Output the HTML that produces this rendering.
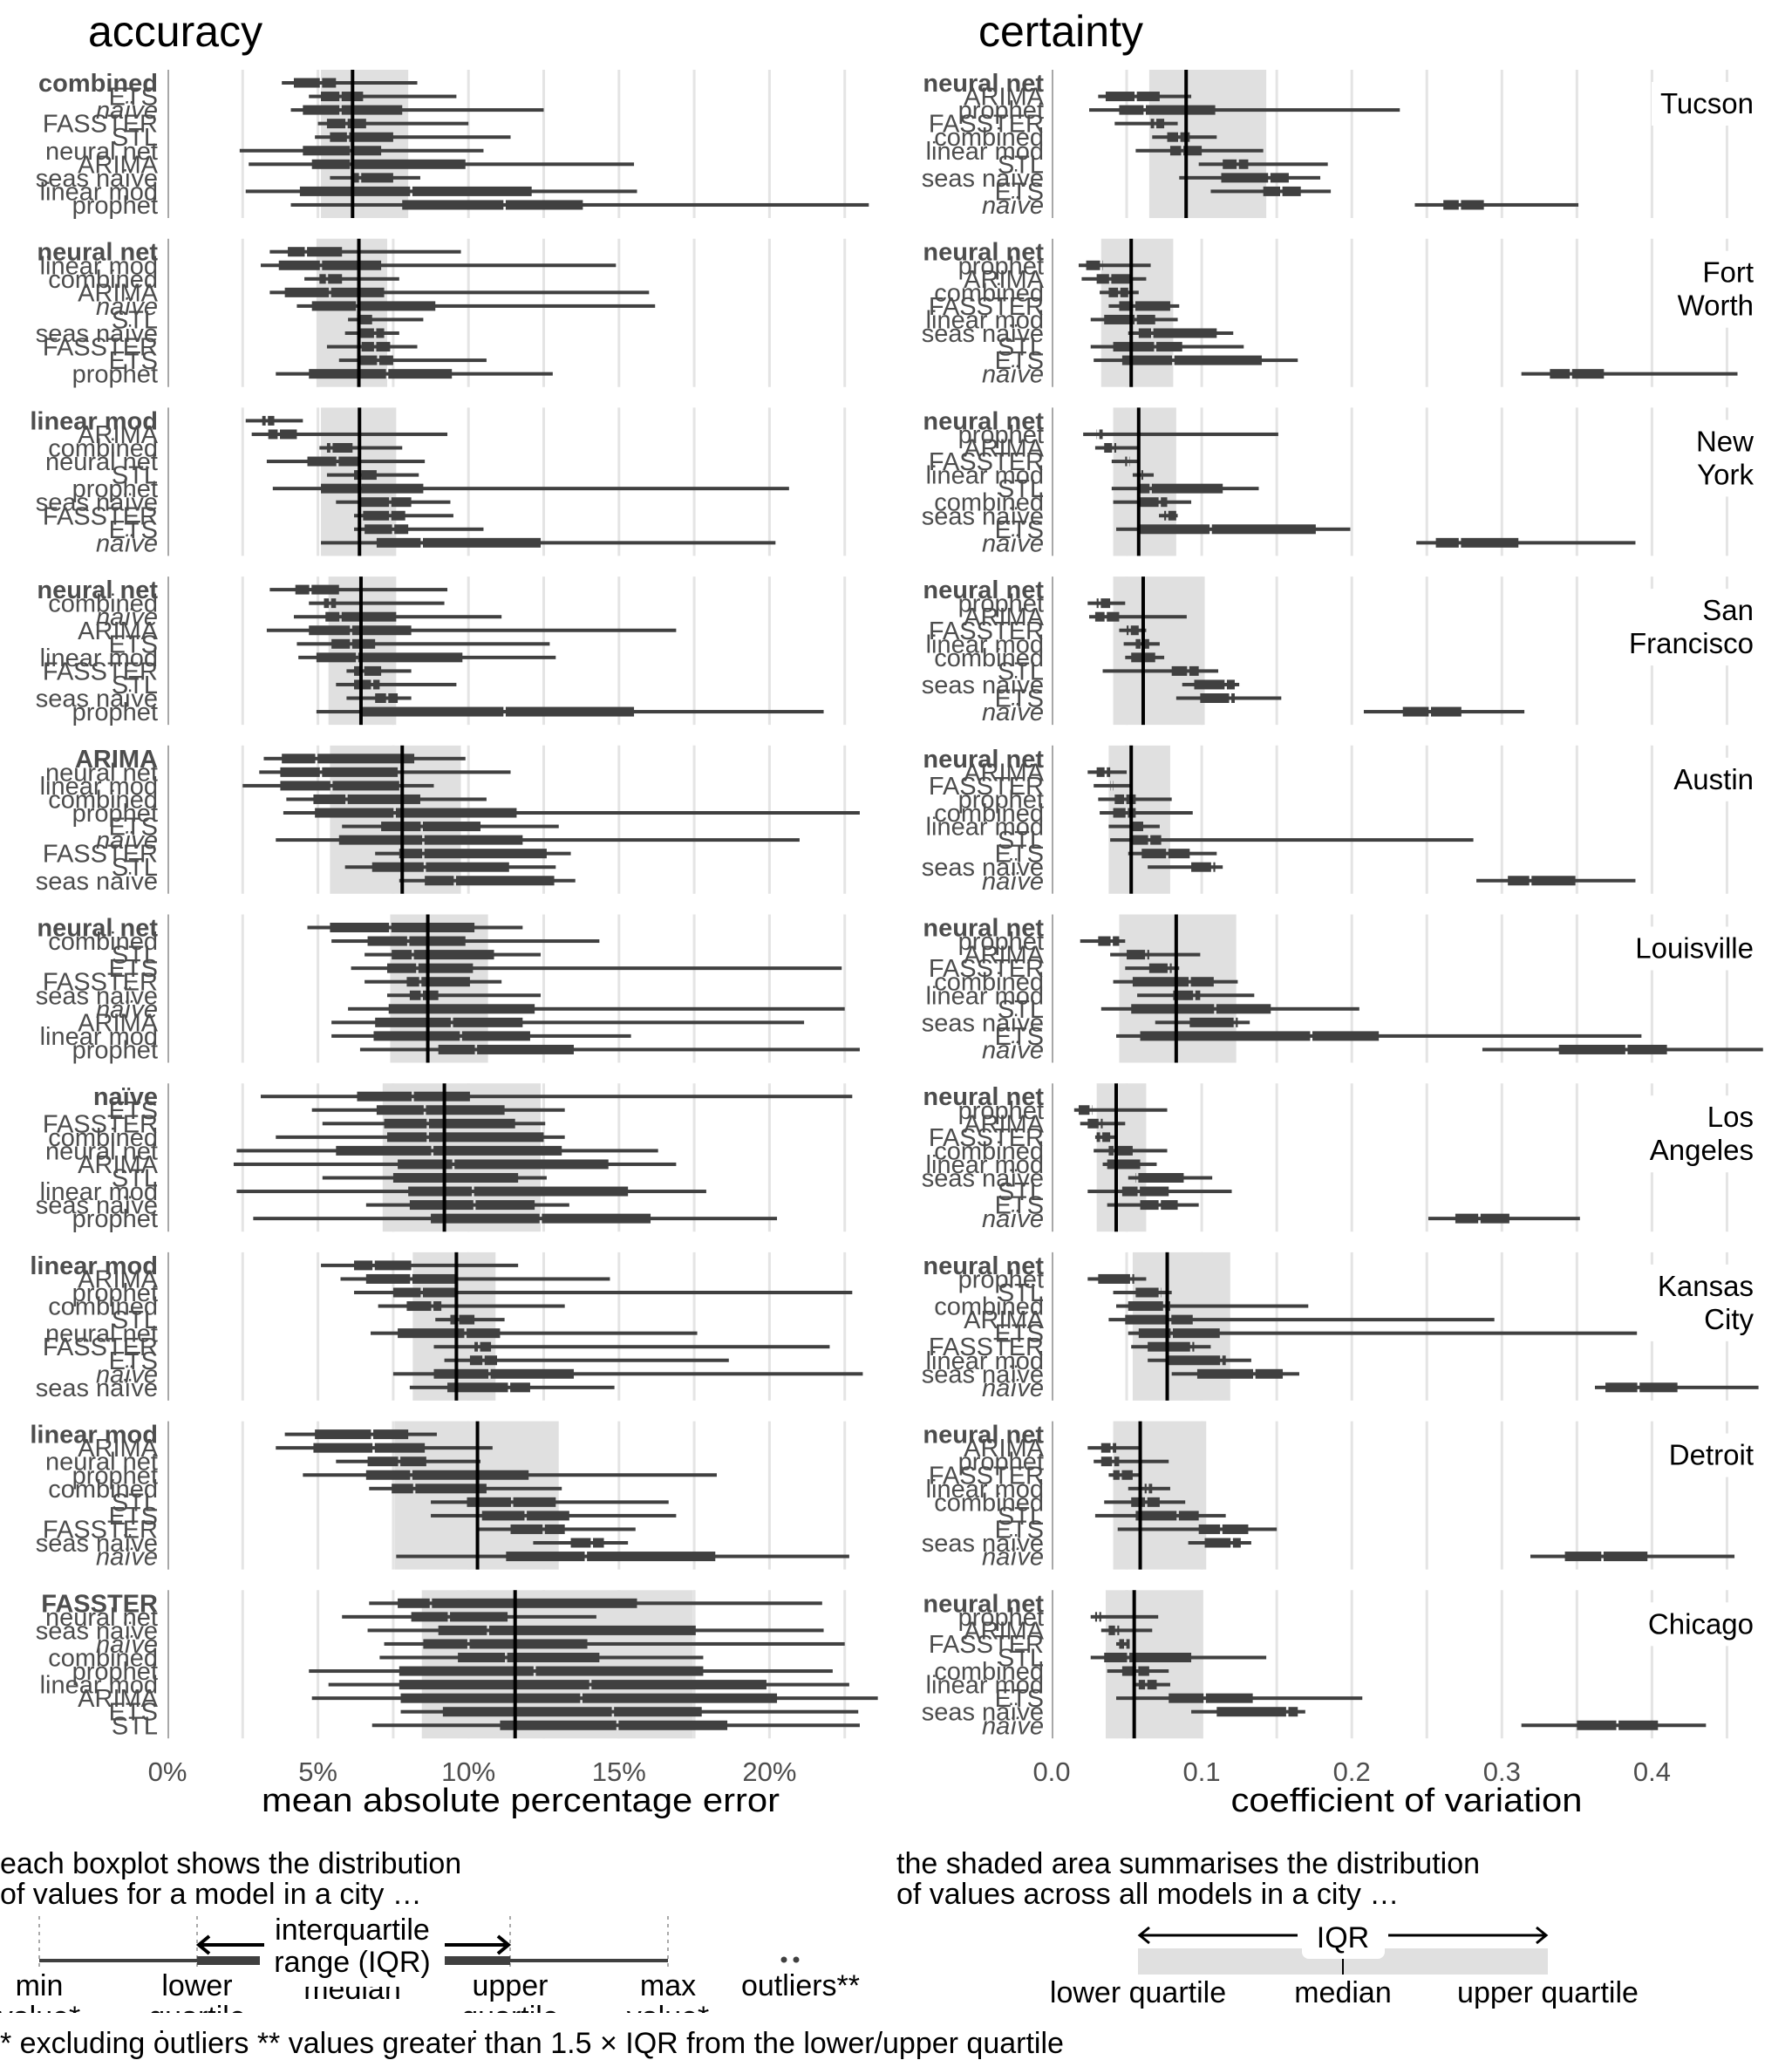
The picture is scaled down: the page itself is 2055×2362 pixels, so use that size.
<!DOCTYPE html>
<html><head><meta charset="utf-8"><title>accuracy and certainty by city</title>
<style>
html,body{margin:0;padding:0;background:#fff;}
svg{display:block;font-family:"Liberation Sans",sans-serif;}
</style></head>
<body>
<svg id="chart" width="2055" height="2362" viewBox="0 0 2055 2362" xmlns="http://www.w3.org/2000/svg">
<rect x="0" y="0" width="2055" height="2362" fill="#fff"/>
<text x="101" y="53" font-size="50" fill="#000">accuracy</text>
<text x="1122" y="53" font-size="50" fill="#000">certainty</text>
<g id="plots"></g>
<text x="597" y="2077" font-size="38" text-anchor="middle" textLength="594" lengthAdjust="spacingAndGlyphs" fill="#000">mean absolute percentage error</text>
<text x="1613" y="2077" font-size="38" text-anchor="middle" textLength="403" lengthAdjust="spacingAndGlyphs" fill="#000">coefficient of variation</text>

<g font-size="34" fill="#000">
  <text x="0" y="2148">each boxplot shows the distribution</text>
  <text x="0" y="2183">of values for a model in a city …</text>
  <g stroke="#aaa" stroke-width="2" stroke-dasharray="4,5">
    <line x1="45" y1="2197" x2="45" y2="2257"/><line x1="226" y1="2197" x2="226" y2="2257"/>
    <line x1="585" y1="2197" x2="585" y2="2257"/><line x1="766" y1="2197" x2="766" y2="2257"/>
  </g>
  <rect x="45" y="2246" width="721" height="4" fill="#404040"/>
  <rect x="226" y="2243" width="77" height="10" fill="#404040"/>
  <rect x="510" y="2243" width="75" height="10" fill="#404040"/>
  <text x="45" y="2288" text-anchor="middle">min</text>
  <text x="226" y="2288" text-anchor="middle">lower</text>
  <text x="404" y="2292" text-anchor="middle">median</text>
  <text x="585" y="2288" text-anchor="middle">upper</text>
  <text x="766" y="2288" text-anchor="middle">max</text>
  <text x="45" y="2324" text-anchor="middle">value*</text>
  <text x="226" y="2324" text-anchor="middle">quartile</text>
  <text x="585" y="2324" text-anchor="middle">quartile</text>
  <text x="766" y="2324" text-anchor="middle">value*</text>
  <rect x="0" y="2308" width="1100" height="20" fill="#fff"/>
  <rect x="298" y="2198" width="212" height="80" rx="6" fill="#fff"/>
  <text x="404" y="2224" text-anchor="middle">interquartile</text>
  <text x="404" y="2261" text-anchor="middle">range (IQR)</text>
  <g stroke="#000" stroke-width="4" fill="none">
    <line x1="303" y1="2230" x2="230" y2="2230"/><polyline points="240,2220 228,2230 240,2240"/>
    <line x1="510" y1="2230" x2="581" y2="2230"/><polyline points="571,2220 583,2230 571,2240"/>
  </g>
  <circle cx="899" cy="2247" r="3.5" fill="#404040"/><circle cx="913" cy="2247" r="3.5" fill="#404040"/>
  <text x="918" y="2288" text-anchor="middle">outliers**</text>
  <text x="0" y="2354">* excluding outliers  ** values greater than 1.5 × IQR from the lower/upper quartile</text>
</g>

<g font-size="34" fill="#000">
  <text x="1028" y="2148">the shaded area summarises the distribution</text>
  <text x="1028" y="2183">of values across all models in a city …</text>
  <rect x="1305" y="2234" width="470" height="30" fill="#e0e0e0"/>
  <rect x="1493" y="2200" width="95" height="46" rx="8" fill="#fff"/>
  <line x1="1540" y1="2246" x2="1540" y2="2264" stroke="#000" stroke-width="2"/>
  <text x="1540" y="2233" text-anchor="middle">IQR</text>
  <g stroke="#000" stroke-width="3" fill="none">
    <line x1="1488" y1="2219" x2="1308" y2="2219"/><polyline points="1318,2210 1307,2219 1318,2228"/>
    <line x1="1592" y1="2219" x2="1772" y2="2219"/><polyline points="1762,2210 1773,2219 1762,2228"/>
  </g>
  <text x="1305" y="2296" text-anchor="middle">lower quartile</text>
  <text x="1540" y="2296" text-anchor="middle">median</text>
  <text x="1775" y="2296" text-anchor="middle">upper quartile</text>
</g>
</svg>

<script>
// ---------- data ----------
const cities = ["Tucson","Fort Worth","New York","San Francisco","Austin","Louisville","Los Angeles","Kansas City","Detroit","Chicago"];
const accTicks = [0,5,10,15,20];
const accTickLabels = ["0%","5%","10%","15%","20%"];
const cvTicks = [0,0.1,0.2,0.3,0.4];
const cvTickLabels = ["0.0","0.1","0.2","0.3","0.4"];

const accModels = [
 ["combined","ETS","naïve","FASSTER","STL","neural net","ARIMA","seas naïve","linear mod","prophet"],
 ["neural net","linear mod","combined","ARIMA","naïve","STL","seas naïve","FASSTER","ETS","prophet"],
 ["linear mod","ARIMA","combined","neural net","STL","prophet","seas naïve","FASSTER","ETS","naïve"],
 ["neural net","combined","naïve","ARIMA","ETS","linear mod","FASSTER","STL","seas naïve","prophet"],
 ["ARIMA","neural net","linear mod","combined","prophet","ETS","naïve","FASSTER","STL","seas naïve"],
 ["neural net","combined","STL","ETS","FASSTER","seas naïve","naïve","ARIMA","linear mod","prophet"],
 ["naïve","ETS","FASSTER","combined","neural net","ARIMA","STL","linear mod","seas naïve","prophet"],
 ["linear mod","ARIMA","prophet","combined","STL","neural net","FASSTER","ETS","naïve","seas naïve"],
 ["linear mod","ARIMA","neural net","prophet","combined","STL","ETS","FASSTER","seas naïve","naïve"],
 ["FASSTER","neural net","seas naïve","naïve","combined","prophet","linear mod","ARIMA","ETS","STL"]
];
const accMin = [
 [3.8,4.7,4.1,5.0,4.9,2.4,2.7,5.4,2.6,4.1],
 [3.4,3.1,4.55,3.4,4.3,6.0,5.9,5.3,5.7,3.6],
 [2.6,2.8,5.05,3.3,5.3,3.5,5.6,6.2,6.2,5.1],
 [3.4,4.7,4.2,3.3,4.3,4.35,5.95,5.6,5.95,4.95],
 [3.2,3.05,2.5,3.95,3.85,5.8,3.6,6.9,5.9,7.7],
 [4.65,5.45,6.55,6.1,6.55,7.3,6.0,5.45,5.45,6.4],
 [3.1,4.8,5.15,3.6,2.3,2.2,5.15,2.3,6.6,2.85],
 [5.1,5.75,6.2,7.0,8.9,6.75,8.85,9.2,7.5,8.05],
 [3.9,3.6,5.6,4.5,6.7,8.75,8.75,10.35,12.15,7.6],
 [6.7,5.8,6.65,7.2,7.05,4.7,5.35,4.8,7.75,6.8]
];
const accQ1 = [
 [4.2,5.1,4.5,5.3,5.4,4.5,4.8,6.2,4.4,7.8],
 [4.0,3.7,5.05,3.9,4.8,6.3,6.35,6.45,6.4,4.7],
 [3.15,3.35,5.3,4.65,6.2,5.1,6.4,6.5,6.55,6.95],
 [4.25,5.2,5.25,4.7,5.45,4.95,6.2,6.2,6.9,6.45],
 [3.8,3.75,3.75,4.85,4.9,7.1,5.7,7.7,6.8,8.55],
 [5.4,6.65,7.45,7.3,7.95,8.05,7.35,6.9,6.85,9.0],
 [6.3,6.95,7.2,7.3,5.6,7.65,7.5,8.0,8.05,8.75],
 [6.2,6.6,7.5,7.95,9.4,7.65,10.2,10.05,8.85,9.3],
 [4.9,4.85,6.65,6.6,7.45,9.95,10.45,11.4,13.4,11.25],
 [7.65,8.1,9.0,8.5,9.65,7.7,7.7,7.75,9.15,11.05]
];
const accMed = [
 [5.1,5.75,5.75,5.95,6.0,6.1,6.1,6.4,8.1,11.2],
 [4.6,5.1,5.3,5.4,6.3,6.35,6.9,6.9,7.0,7.3],
 [3.3,3.7,5.45,5.65,6.4,6.4,7.4,7.4,7.5,8.45],
 [4.75,5.4,5.75,6.1,6.1,6.3,6.5,6.8,7.3,11.2],
 [4.95,5.1,5.45,5.95,7.55,8.45,8.5,8.5,8.55,9.55],
 [7.4,8.0,8.15,8.3,8.4,8.45,8.65,9.45,9.75,10.25],
 [8.15,8.55,8.65,8.65,8.8,9.5,9.2,10.15,10.2,12.4],
 [6.85,8.1,8.45,8.8,9.65,9.9,10.35,10.5,10.7,11.35],
 [6.8,6.85,7.7,8.1,8.2,11.45,11.9,12.5,14.1,13.9],
 [8.75,9.35,10.65,10.0,11.25,12.2,14.05,13.75,14.8,14.95]
];
const accQ3 = [
 [5.6,6.5,7.8,6.6,7.5,7.1,9.9,7.5,12.1,13.8],
 [5.8,7.1,5.8,7.2,8.9,6.8,7.2,7.4,7.5,9.45],
 [3.55,4.3,6.15,6.35,6.95,8.5,8.1,7.9,8.0,12.4],
 [5.7,5.6,7.6,8.1,6.9,9.8,7.1,7.05,7.65,15.5],
 [8.2,7.65,7.7,8.4,11.6,10.4,11.8,12.6,11.35,12.85],
 [10.2,9.9,10.85,10.15,10.05,9.0,12.2,11.8,12.05,13.5],
 [10.05,11.2,11.55,12.5,13.1,14.65,11.65,15.3,12.2,16.05],
 [8.1,9.55,9.55,9.1,10.2,11.05,10.75,10.95,13.5,12.05],
 [8.0,8.55,8.6,12.0,10.6,12.9,13.35,13.2,14.5,18.2],
 [15.6,11.3,17.55,13.95,14.35,17.8,19.9,20.25,17.75,18.6]
];
const accMax = [
 [8.3,9.6,12.5,10.0,11.4,10.5,15.5,8.4,15.6,23.3],
 [9.75,14.9,7.7,16.0,16.2,8.5,7.7,8.3,10.6,12.8],
 [4.5,9.3,7.8,8.55,8.35,20.65,9.4,9.5,10.5,20.2],
 [9.3,9.2,11.1,16.9,12.7,12.9,8.1,9.6,8.1,21.8],
 [9.9,11.4,8.85,10.6,23.0,13.0,21.0,13.4,12.9,13.55],
 [11.8,14.35,12.4,22.4,11.1,12.4,22.5,21.15,15.4,23.0],
 [22.75,13.2,12.55,13.2,16.3,16.9,12.6,17.9,13.35,20.25],
 [11.65,14.7,22.75,13.2,11.2,17.6,22.0,18.65,23.1,14.85],
 [8.95,10.8,10.4,18.25,13.1,16.65,16.9,15.55,15.3,22.65],
 [21.75,14.25,21.8,22.5,17.8,22.1,22.65,23.6,22.95,23.0]
];
const accShadeLo = [5.1,4.95,5.1,5.35,5.4,7.4,7.15,8.15,7.55,8.45];
const accShadeMed = [6.15,6.36,6.38,6.43,7.8,8.65,9.2,9.6,10.3,11.55];
const accShadeHi = [8.0,7.3,7.6,7.6,9.75,10.65,12.4,10.9,13.0,17.45];

const cvModels = [
 ["neural net","ARIMA","prophet","FASSTER","combined","linear mod","STL","seas naïve","ETS","naïve"],
 ["neural net","prophet","ARIMA","combined","FASSTER","linear mod","seas naïve","STL","ETS","naïve"],
 ["neural net","prophet","ARIMA","FASSTER","linear mod","STL","combined","seas naïve","ETS","naïve"],
 ["neural net","prophet","ARIMA","FASSTER","linear mod","combined","STL","seas naïve","ETS","naïve"],
 ["neural net","ARIMA","FASSTER","prophet","combined","linear mod","STL","ETS","seas naïve","naïve"],
 ["neural net","prophet","ARIMA","FASSTER","combined","linear mod","STL","seas naïve","ETS","naïve"],
 ["neural net","prophet","ARIMA","FASSTER","combined","linear mod","seas naïve","STL","ETS","naïve"],
 ["neural net","prophet","STL","combined","ARIMA","ETS","FASSTER","linear mod","seas naïve","naïve"],
 ["neural net","ARIMA","prophet","FASSTER","linear mod","combined","STL","ETS","seas naïve","naïve"],
 ["neural net","prophet","ARIMA","FASSTER","STL","combined","linear mod","ETS","seas naïve","naïve"]
];
const cvMin = [
 [null,0.031,0.025,0.042,0.067,0.056,0.098,0.085,0.106,0.242],
 [null,0.018,0.020,0.032,0.038,0.026,0.051,0.026,0.028,0.313],
 [null,0.021,0.029,0.040,0.054,0.040,0.041,0.0715,0.043,0.243],
 [null,0.024,0.025,0.045,0.048,0.049,0.034,0.087,0.083,0.208],
 [null,0.024,0.028,0.031,0.032,0.038,0.039,0.051,0.064,0.283],
 [null,0.019,0.039,0.049,0.041,0.057,0.033,0.069,0.043,0.287],
 [null,0.015,0.019,0.029,0.028,0.034,0.051,0.024,0.037,0.251],
 [null,0.024,0.041,0.043,0.038,0.051,0.053,0.064,0.080,0.362],
 [null,0.024,0.028,0.038,0.051,0.035,0.029,0.044,0.091,0.319],
 [null,0.026,0.033,0.043,0.026,0.037,0.056,0.043,0.093,0.313]
];
const cvQ1 = [
 [null,0.036,0.045,0.066,0.077,0.079,0.114,0.113,0.141,0.261],
 [null,0.023,0.030,0.038,0.045,0.035,0.058,0.041,0.047,0.332],
 [null,0.030,0.035,0.049,0.057,0.058,0.058,0.075,0.058,0.256],
 [null,0.030,0.029,0.050,0.056,0.053,0.080,0.095,0.099,0.234],
 [null,0.030,0.039,0.042,0.041,0.052,0.054,0.060,0.093,0.304],
 [null,0.031,0.050,0.065,0.054,0.081,0.053,0.092,0.059,0.338],
 [null,0.018,0.024,0.030,0.038,0.037,0.056,0.047,0.059,0.269],
 [null,0.031,0.056,0.051,0.049,0.058,0.064,0.076,0.097,0.369],
 [null,0.033,0.033,0.041,0.062,0.053,0.056,0.098,0.102,0.342],
 [null,0.029,0.038,0.045,0.035,0.047,0.058,0.078,0.110,0.350]
];
const cvMed = [
 [null,0.056,0.062,0.069,0.085,0.087,0.124,0.145,0.153,0.272],
 [null,0.033,0.039,0.045,0.055,0.056,0.067,0.069,0.081,0.346],
 [null,0.031,0.041,0.051,0.059,0.066,0.072,0.077,0.106,0.272],
 [null,0.032,0.036,0.052,0.060,0.061,0.091,0.116,0.119,0.252],
 [null,0.036,0.040,0.049,0.050,0.053,0.065,0.077,0.107,0.319],
 [null,0.040,0.063,0.078,0.092,0.095,0.109,0.122,0.173,0.383],
 [null,0.026,0.032,0.033,0.042,0.043,0.057,0.058,0.072,0.285],
 [null,0.053,0.072,0.075,0.079,0.080,0.093,0.113,0.135,0.391],
 [null,0.040,0.041,0.046,0.064,0.063,0.084,0.113,0.120,0.367],
 [null,0.031,0.043,0.049,0.051,0.057,0.063,0.102,0.157,0.377]
];
const cvQ3 = [
 [null,0.072,0.109,0.075,0.092,0.100,0.131,0.158,0.166,0.288],
 [null,0.034,0.052,0.051,0.079,0.069,0.110,0.087,0.140,0.368],
 [null,0.034,0.043,0.052,0.061,0.114,0.077,0.083,0.176,0.311],
 [null,0.039,0.045,0.058,0.065,0.069,0.098,0.122,0.122,0.273],
 [null,0.039,0.041,0.056,0.056,0.061,0.073,0.092,0.109,0.349],
 [null,0.045,0.065,0.080,0.108,0.099,0.146,0.124,0.218,0.410],
 [null,0.027,0.034,0.039,0.054,0.059,0.088,0.078,0.084,0.305],
 [null,0.055,0.073,0.079,0.094,0.112,0.095,0.116,0.154,0.417],
 [null,0.043,0.045,0.054,0.067,0.072,0.098,0.131,0.126,0.397],
 [null,0.033,0.045,0.052,0.093,0.065,0.070,0.134,0.164,0.404]
];
const cvMax = [
 [null,0.093,0.232,0.084,0.110,0.141,0.184,0.179,0.186,0.351],
 [null,0.066,0.063,0.058,0.085,0.084,0.121,0.128,0.164,0.457],
 [null,0.151,0.057,0.057,0.068,0.138,0.093,0.084,0.199,0.389],
 [null,0.049,0.090,0.063,0.072,0.075,0.111,0.125,0.153,0.315],
 [null,0.050,0.052,0.080,0.094,0.072,0.281,0.110,0.114,0.389],
 [null,0.049,0.099,0.085,0.124,0.135,0.205,0.132,0.393,0.474],
 [null,0.077,0.049,0.042,0.077,0.070,0.107,0.120,0.098,0.352],
 [null,0.063,0.080,0.171,0.295,0.390,0.106,0.133,0.165,0.471],
 [null,0.058,0.078,0.058,0.079,0.089,0.116,0.150,0.133,0.455],
 [null,0.071,0.067,0.052,0.143,0.078,0.079,0.207,0.169,0.436]
];
const cvShadeLo = [0.065,0.033,0.041,0.041,0.038,0.045,0.030,0.054,0.041,0.036];
const cvShadeMed = [0.0896,0.053,0.058,0.061,0.053,0.083,0.043,0.077,0.059,0.055];
const cvShadeHi = [0.143,0.081,0.083,0.102,0.079,0.123,0.063,0.119,0.103,0.101];

// ---------- layout ----------
const NS = "http://www.w3.org/2000/svg";
const PANEL_TOP0 = 80, PANEL_PITCH = 193.7, PANEL_H = 170, ROW0 = 15, ROW_STEP = 15.55;
const accX = v => 192 + v * 34.52;
const cvX = v => 1206 + v * 1721;
const panelTop = i => PANEL_TOP0 + i * PANEL_PITCH;
const rowY = (i, j) => panelTop(i) + ROW0 + j * ROW_STEP;
const root = document.getElementById("plots");

function mk(tag, attrs, parent) {
  const el = document.createElementNS(NS, tag);
  for (const k in attrs) el.setAttribute(k, attrs[k]);
  (parent || root).appendChild(el);
  return el;
}

const defs = mk("defs", {});
const c1 = mk("clipPath", {id: "clipL"}, defs); mk("rect", {x: 191, y: 0, width: 850, height: 2362}, c1);
const c2 = mk("clipPath", {id: "clipR"}, defs); mk("rect", {x: 1205, y: 0, width: 850, height: 2362}, c2);

function drawSide(side) {
  const isAcc = side === "acc";
  const X = isAcc ? accX : cvX;
  const mins = isAcc ? accMin : cvMin, q1s = isAcc ? accQ1 : cvQ1, meds = isAcc ? accMed : cvMed;
  const q3s = isAcc ? accQ3 : cvQ3, maxs = isAcc ? accMax : cvMax;
  const models = isAcc ? accModels : cvModels;
  const sLo = isAcc ? accShadeLo : cvShadeLo, sMed = isAcc ? accShadeMed : cvShadeMed, sHi = isAcc ? accShadeHi : cvShadeHi;
  const grid = [];
  if (isAcc) { for (let v = 2.5; v <= 22.6; v += 2.5) grid.push(v); }
  else { for (let k = 1; k <= 9; k++) grid.push(k * 0.05); }
  const labelX = isAcc ? 181 : 1197;

  for (let i = 0; i < cities.length; i++) {
    const top = panelTop(i);
    const g = mk("g", {"clip-path": isAcc ? "url(#clipL)" : "url(#clipR)"});
    
    
    grid.forEach(v => {
      const gl = mk("line", {x1: X(v), x2: X(v), y1: top, y2: top + PANEL_H, stroke: "#e4e4e4", "stroke-width": 3}, g);
      
      
    });
    const sh = mk("rect", {x: X(sLo[i]), y: top, width: X(sHi[i]) - X(sLo[i]), height: PANEL_H, fill: "#e0e0e0"}, g);
    
    
    const ax = mk("line", {x1: X(0) + 1, x2: X(0) + 1, y1: top, y2: top + PANEL_H, stroke: "#a8a8a8", "stroke-width": 2}, g);
    
    

    for (let j = 0; j < 10; j++) {
      const y = rowY(i, j);
      if (mins[i][j] !== null) {
        const bg = mk("g", {}, g);
        
        
        const mn = X(mins[i][j]), a = X(q1s[i][j]), m = X(meds[i][j]), b = X(q3s[i][j]), mx = X(maxs[i][j]);
        mk("rect", {x: mn, y: y - 2, width: Math.max(1, mx - mn), height: 4, fill: "#404040"}, bg);
        if (m - 1.3 - a > 0) mk("rect", {x: a, y: y - 5.5, width: m - 1.3 - a, height: 11, fill: "#404040"}, bg);
        if (b - m - 1.3 > 0) mk("rect", {x: m + 1.3, y: y - 5.5, width: b - m - 1.3, height: 11, fill: "#404040"}, bg);
      }
    }
    const ml = mk("line", {x1: X(sMed[i]), x2: X(sMed[i]), y1: top, y2: top + PANEL_H, stroke: "#000", "stroke-width": 4}, g);
    
    

    for (let j = 0; j < 10; j++) {
      const name = models[i][j];
      const t = mk("text", {x: labelX, y: rowY(i, j) + 10, "text-anchor": "end", "font-size": 29, fill: "#4d4d4d"});
      
      
      if (j === 0) t.setAttribute("font-weight", "bold");
      else if (name === "naïve") t.setAttribute("font-style", "italic");
      t.textContent = name;
    }

    if (!isAcc) {
      const words = cities[i].split(" ");
      const lg = mk("g", {});
      
      
      const bgR = mk("rect", {x: 0, y: top + 14, width: 0, height: words.length * 38 + 12, fill: "#fff"}, lg);
      let w = 0;
      words.forEach((wd, k) => {
        const t = mk("text", {x: 2011, y: top + 50 + k * 38, "text-anchor": "end", "font-size": 33, fill: "#000"}, lg);
        t.textContent = wd;
        w = Math.max(w, t.getComputedTextLength());
      });
      bgR.setAttribute("x", 2011 - w - 10);
      bgR.setAttribute("width", w + 22);
    }
  }

  const ticks = isAcc ? accTicks : cvTicks, tl = isAcc ? accTickLabels : cvTickLabels;
  ticks.forEach((v, k) => {
    const t = mk("text", {x: X(v), y: 2042, "text-anchor": "middle", "font-size": 31, fill: "#4d4d4d"});
    
    
    t.textContent = tl[k];
  });
}
drawSide("acc");
drawSide("cv");
</script>
</body></html>
